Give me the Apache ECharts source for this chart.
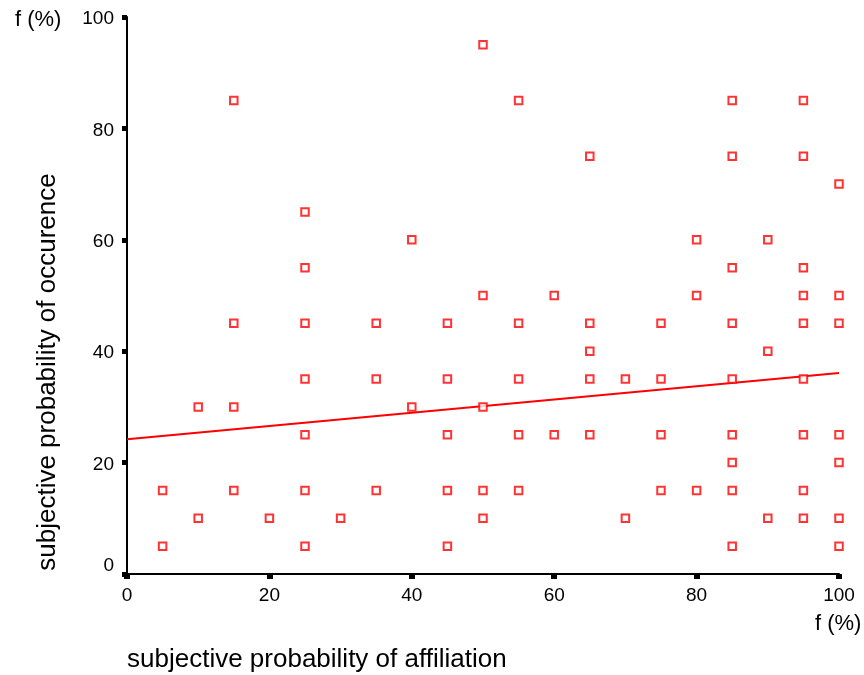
<!DOCTYPE html>
<html><head><meta charset="utf-8">
<script src="https://cdn.jsdelivr.net/npm/echarts@6/dist/echarts.min.js"></script>
<style>html,body{margin:0;padding:0;background:#fff}#c{width:864px;height:675px}</style>
</head><body><div id="c"></div>
<script>
// affiliation (x, %) and occurrence (y, %) for each respondent
const xValues = [5,5, 10,10, 15,15,15,15, 20, 25,25,25,25,25,25,25, 30, 35,35,35, 40,40,
  45,45,45,45,45, 50,50,50,50,50, 55,55,55,55,55, 60,60, 65,65,65,65,65, 70,70,
  75,75,75,75, 80,80,80, 85,85,85,85,85,85,85,85,85, 90,90,90,
  95,95,95,95,95,95,95,95,95, 100,100,100,100,100,100,100];
const yValues = [15,5, 30,10, 85,45,30,15, 10, 65,55,45,35,25,15,5, 10, 45,35,15, 60,30,
  45,35,25,15,5, 95,50,30,15,10, 85,45,35,25,15, 50,25, 75,45,40,35,25, 35,10,
  45,35,25,15, 60,50,15, 85,75,55,45,35,25,20,15,5, 60,40,10,
  85,75,55,50,45,35,25,15,10, 70,50,45,25,20,10,5];
// regression line end points
const fitX = [0, 100];
const fitY = [24.2, 36.1];
const xTicks = [0, 20, 40, 60, 80, 100];
const yTicks = [0, 20, 40, 60, 80, 100];

const font = 'Liberation Sans, Arial, sans-serif';
const chart = echarts.init(document.getElementById('c'));
chart.setOption({
  animation: false,
  grid: {left: 127, right: 25, top: 17, bottom: 101, containLabel: false},
  xAxis: {
    type: 'value', min: 0, max: 100, interval: 20,
    axisLine: {show: true, lineStyle: {color: '#000', width: 2}},
    axisTick: {show: true, inside: false, length: 5, lineStyle: {color: '#000', width: 6}},
    splitLine: {show: false},
    axisLabel: {color: '#000', fontSize: 19, fontFamily: font, margin: 12,
      formatter: v => xTicks.includes(v) ? String(v) : ''}
  },
  yAxis: {
    type: 'value', min: 0, max: 100, interval: 20,
    axisLine: {show: true, lineStyle: {color: '#000', width: 2}},
    axisTick: {show: true, inside: false, length: 5, lineStyle: {color: '#000', width: 5}},
    splitLine: {show: false},
    axisLabel: {color: '#000', fontSize: 19, fontFamily: font, margin: 13, padding: [4, 0, 0, 0],
      formatter: v => v === 0 ? '{z|0}' : (yTicks.includes(v) ? String(v) : ''),
      rich: {z: {fontSize: 19, fontFamily: font, color: '#000', padding: [0, 0, 20, 0]}}}
  },
  series: [
    {
      type: 'scatter',
      data: xValues.map((x, i) => [x, yValues[i]]),
      symbol: 'rect', symbolSize: 7.5,
      itemStyle: {color: '#fff', borderColor: '#ff0000', borderWidth: 2},
      z: 3
    },
    {
      type: 'line',
      data: fitX.map((x, i) => [x, fitY[i]]),
      showSymbol: false, symbol: 'none',
      lineStyle: {color: '#ff0000', width: 2},
      z: 2
    }
  ],
  graphic: [
    {type: 'text', x: 15, y: 20, style: {text: 'f (%)', font: '22px ' + font, fill: '#000', verticalAlign: 'middle'}},
    {type: 'text', x: 815, y: 624, style: {text: 'f (%)', font: '22px ' + font, fill: '#000', verticalAlign: 'middle'}},
    {type: 'text', x: 127, y: 660, style: {text: 'subjective probability of affiliation', font: '26px ' + font, fill: '#000', verticalAlign: 'middle', align: 'left'}},
    {type: 'text', x: 48, y: 372, rotation: Math.PI / 2, style: {text: 'subjective probability of occurence', font: '26px ' + font, fill: '#000', verticalAlign: 'middle', align: 'center'}}
  ]
});
</script></body></html>
